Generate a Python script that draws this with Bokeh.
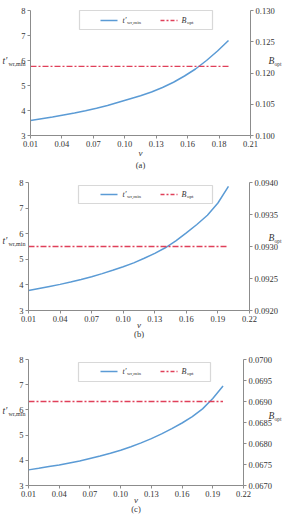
import numpy as np
from bokeh.plotting import figure
from bokeh.layouts import column
from bokeh.models import Range1d, LinearAxis, FixedTicker, Label, BoxAnnotation, Arrow
from bokeh.embed import file_html
from bokeh.resources import INLINE

# ---------------- data ----------------
v_a = [0.01, 0.02, 0.03, 0.04, 0.05, 0.06, 0.07, 0.08, 0.09, 0.10,
       0.11, 0.12, 0.13, 0.14, 0.15, 0.16, 0.17, 0.18, 0.19]
t_a = [3.60, 3.67, 3.74, 3.82, 3.90, 3.99, 4.09, 4.20, 4.33, 4.46,
       4.59, 4.74, 4.92, 5.13, 5.38, 5.66, 6.00, 6.38, 6.80]
bopt_a = 0.1166

v_b = [0.01, 0.02, 0.03, 0.04, 0.05, 0.06, 0.07, 0.08, 0.09, 0.10,
       0.11, 0.12, 0.13, 0.14, 0.15, 0.16, 0.17, 0.18, 0.19, 0.20]
t_b = [3.78, 3.86, 3.94, 4.02, 4.11, 4.21, 4.32, 4.44, 4.57, 4.71,
       4.86, 5.04, 5.23, 5.45, 5.72, 6.03, 6.36, 6.72, 7.20, 7.85]
bopt_b = 0.0930

v_c = [0.01, 0.02, 0.03, 0.04, 0.05, 0.06, 0.07, 0.08, 0.09, 0.10,
       0.11, 0.12, 0.13, 0.14, 0.15, 0.16, 0.17, 0.18, 0.19, 0.20]
t_c = [3.62, 3.68, 3.75, 3.81, 3.89, 3.97, 4.07, 4.17, 4.28, 4.40,
       4.54, 4.69, 4.86, 5.05, 5.26, 5.48, 5.73, 6.04, 6.45, 6.95]
bopt_c = 0.0690

x_labels_a = ["0.01", "0.04", "0.07", "0.10", "0.13", "0.16", "0.18", "0.21"]
x_labels_bc = ["0.01", "0.04", "0.07", "0.10", "0.13", "0.16", "0.19", "0.22"]
y_ticks = [3, 4, 5, 6, 7, 8]
r_labels_a = ["0.100", "0.105", "0.120", "0.125", "0.130"]
r_labels_b = ["0.0920", "0.0925", "0.0930", "0.0935", "0.0940"]
r_labels_c = ["0.0670", "0.0675", "0.0680", "0.0685", "0.0690", "0.0695", "0.0700"]
captions = ["(a)", "(b)", "(c)"]

# ---------------- style ----------------
FONT = "Liberation Serif"
AX = "#8c8c8c"
TXT = "#333333"
BLUE = "#5b9bd5"
RED = "#e0405a"
FS = "8.5px"
W = 283


def style_axis(ax):
    ax.axis_line_color = AX
    ax.major_tick_line_color = AX
    ax.minor_tick_line_color = None
    ax.major_tick_out = 3
    ax.major_tick_in = 0
    ax.major_label_text_font = FONT
    ax.major_label_text_font_size = FS
    ax.major_label_text_color = TXT
    ax.major_label_standoff = 2


def panel(v, t, bopt, xb, x_labels, rb, r_labels, caption, H, box, legy, sides, caps):
    fl, fr, ft, fb = box          # frame of the axes, in pixels of this panel
    x0, x1 = xb
    r0, r1 = rb
    kx = (x1 - x0) / (fr - fl)
    ky = 5.0 / (fb - ft)
    kr = (r1 - r0) / (fb - ft)
    p = figure(width=W, height=H,
               x_range=Range1d(x0 - fl * kx, x1 + (W - fr) * kx),
               y_range=Range1d(3 - (H - fb) * ky, 8 + ft * ky),
               output_backend="svg", toolbar_location=None, min_border=0)
    p.outline_line_color = None
    p.xgrid.grid_line_color = None
    p.ygrid.grid_line_color = None
    p.background_fill_color = "white"
    p.border_fill_color = "white"

    lax = p.yaxis[0]
    lax.fixed_location = x0
    lax.bounds = (3, 8)
    lax.ticker = FixedTicker(ticks=y_ticks)
    xax = p.xaxis[0]
    xax.fixed_location = 3
    xax.bounds = (x0, x1)
    xt = [float(x) for x in np.linspace(x0, x1, len(x_labels))]
    xax.ticker = FixedTicker(ticks=xt)
    xax.major_label_overrides = {xv: s for xv, s in zip(xt, x_labels)}

    p.extra_y_ranges = {"r": Range1d(r0 - (H - fb) * kr, r1 + ft * kr)}
    rt = [float(x) for x in np.linspace(r0, r1, len(r_labels))]
    rax = LinearAxis(y_range_name="r", fixed_location=x1, bounds=(r0, r1),
                     ticker=FixedTicker(ticks=rt),
                     major_label_overrides={rv: s for rv, s in zip(rt, r_labels)})
    p.add_layout(rax, "right")
    for ax in [xax, lax, rax]:
        style_axis(ax)

    p.line(v, t, line_color=BLUE, line_width=1.5)
    p.line([v[0], v[-1]], [bopt, bopt], y_range_name="r", line_color=RED,
           line_width=1.3, line_dash="6 2 2 2")

    def lab(x, y, text, size, italic=False, align="left"):
        # x, y: pixel position in this panel measured from its top-left corner
        p.add_layout(Label(x=x, y=H - y, x_units="screen", y_units="screen", text=text,
                           text_font=FONT, text_font_style="italic" if italic else "normal",
                           text_font_size=size, text_color=TXT, text_baseline="middle",
                           text_align=align))

    # side labels with subscripts
    ly, ry = sides
    lab(2, ly, "t′", "9.5px", italic=True)
    lab(8, ly + 3, "wr,min", "6px")
    lab(268, ry, "B", "9.5px", italic=True)
    lab(274, ry + 3, "opt", "5.5px")

    # x-axis title and caption
    vy, cy = caps
    lab((fl + fr) / 2, vy, "v", "9px", italic=True, align="center")
    lab((fl + fr) / 2, cy, caption, "8.5px", align="center")

    # legend
    bl, br, bt, bb, lny = legy
    p.add_layout(BoxAnnotation(left=bl, right=br, top=H - bt, bottom=H - bb,
                               left_units="screen", right_units="screen",
                               top_units="screen", bottom_units="screen",
                               fill_color="white", fill_alpha=1.0,
                               line_color="#7f7f7f", line_width=1.2))
    p.add_layout(Arrow(x_start=100, y_start=H - lny, x_end=117, y_end=H - lny,
                       start_units="screen", end_units="screen", end=None,
                       line_color=BLUE, line_width=1.5))
    p.add_layout(Arrow(x_start=160, y_start=H - lny, x_end=177, y_end=H - lny,
                       start_units="screen", end_units="screen", end=None,
                       line_color=RED, line_width=1.3, line_dash="4 2 2 2"))
    lab(122, lny, "t′", "8px", italic=True)
    lab(126.5, lny + 2, "wr,min", "5px")
    lab(181, lny, "B", "8px", italic=True)
    lab(186.5, lny + 2, "opt", "5px")
    return p


pa = panel(v_a, t_a, bopt_a, (0.01, 0.21), x_labels_a, (0.100, 0.130), r_labels_a,
           captions[0], 170, (30, 250, 10, 135), (79, 212, 10, 29, 20), (60, 60), (152, 164))
pb = panel(v_b, t_b, bopt_b, (0.01, 0.22), x_labels_bc, (0.0920, 0.0940), r_labels_b,
           captions[1], 170, (28, 249, 12, 140), (78, 212, 15, 33, 24), (70, 67), (154, 163))
pc = panel(v_c, t_c, bopt_c, (0.01, 0.22), x_labels_bc, (0.0670, 0.0700), r_labels_c,
           captions[2], 175, (28, 243, 19, 145), (78, 210, 22, 41, 31), (70, 75), (159, 168))

layout = column(pa, pb, pc, spacing=0)
open("out.html", "w").write(file_html(layout, INLINE))
